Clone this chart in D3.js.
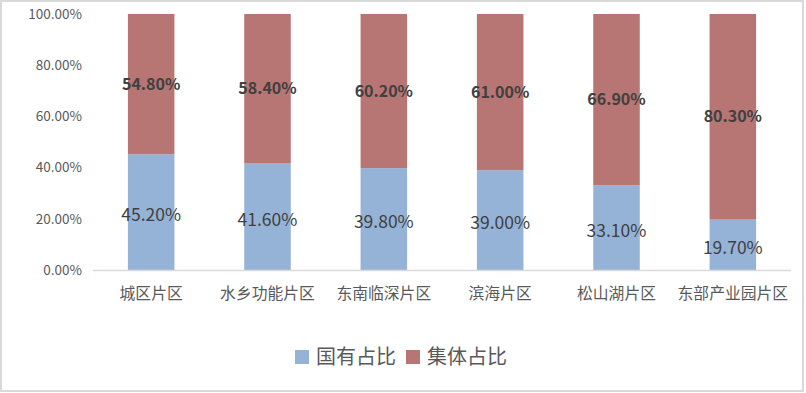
<!DOCTYPE html>
<html lang="zh">
<head>
    <meta charset="UTF-8">
    <title>国有/集体占比</title>
    <script src="https://d3js.org/d3.v7.min.js"></script>
    <style>
        body { margin: 0; background: #fff; }
        text { font-family: "Noto Sans CJK SC", "Noto Sans", sans-serif; }
        .tick-label { font-size: 13.5px; fill: #595959; }
        .cat-label { font-size: 15.8px; fill: #595959; }
        .lbl-state { font-size: 17.5px; fill: #404040; }
        .lbl-coll { font-size: 16px; font-weight: bold; fill: #404040; }
        .legend-text { font-size: 20px; fill: #595959; }
    </style>
</head>
<body>
    <div id="chart"></div>
    <script>
        var categories = ["城区片区", "水乡功能片区", "东南临深片区", "滨海片区", "松山湖片区", "东部产业园片区"];
        var stateShare = [45.2, 41.6, 39.8, 39.0, 33.1, 19.7];       // 国有占比
        var collectiveShare = [54.8, 58.4, 60.2, 61.0, 66.9, 80.3];  // 集体占比
        var seriesNames = ["国有占比", "集体占比"];
        var yTicks = [0, 20, 40, 60, 80, 100];

        var width = 806, height = 393;
        var colors = ["#95b3d7", "#b77573"];

        var svg = d3.select("#chart").append("svg")
            .attr("width", width)
            .attr("height", height);

        // outer border
        svg.append("rect")
            .attr("x", 1).attr("y", 1)
            .attr("width", width - 4).attr("height", height - 3)
            .attr("fill", "#fff")
            .attr("stroke", "#d9d9d9")
            .attr("stroke-width", 2);

        var x = d3.scaleBand()
            .domain(categories)
            .range([93, 791])
            .paddingInner(0.6)
            .paddingOuter(0.3);

        var y = d3.scaleLinear()
            .domain([0, 100])
            .range([270, 14]);

        var rows = categories.map((c, i) => ({ cat: c, a: stateShare[i], b: collectiveShare[i] }));

        // y tick labels
        svg.selectAll(".tick-label")
            .data(yTicks)
            .enter().append("text")
            .attr("class", "tick-label")
            .attr("x", 82)
            .attr("y", d => y(d))
            .attr("dy", "0.35em")
            .attr("text-anchor", "end")
            .text(d => d.toFixed(2) + "%");

        // bars: state (bottom)
        svg.selectAll(".bar-a")
            .data(rows)
            .enter().append("rect")
            .attr("x", d => x(d.cat))
            .attr("width", x.bandwidth())
            .attr("y", d => y(d.a))
            .attr("height", d => y(0) - y(d.a))
            .attr("fill", colors[0]);

        // bars: collective (top)
        svg.selectAll(".bar-b")
            .data(rows)
            .enter().append("rect")
            .attr("x", d => x(d.cat))
            .attr("width", x.bandwidth())
            .attr("y", d => y(d.a + d.b))
            .attr("height", d => y(d.a) - y(d.a + d.b))
            .attr("fill", colors[1]);

        // x axis line
        svg.append("line")
            .attr("x1", 93).attr("x2", 791)
            .attr("y1", y(0) + 0.5).attr("y2", y(0) + 0.5)
            .attr("stroke", "#d9d9d9")
            .attr("stroke-width", 1.5);

        // category labels
        svg.selectAll(".cat-label")
            .data(categories)
            .enter().append("text")
            .attr("class", "cat-label")
            .attr("x", d => x(d) + x.bandwidth() / 2)
            .attr("y", 293)
            .attr("dy", "0.35em")
            .attr("text-anchor", "middle")
            .text(d => d);

        // data labels
        svg.selectAll(".lbl-state")
            .data(rows)
            .enter().append("text")
            .attr("class", "lbl-state")
            .attr("x", d => x(d.cat) + x.bandwidth() / 2)
            .attr("y", d => y(d.a / 2) + 3)
            .attr("dy", "0.35em")
            .attr("text-anchor", "middle")
            .text(d => d.a.toFixed(2) + "%");

        svg.selectAll(".lbl-coll")
            .data(rows)
            .enter().append("text")
            .attr("class", "lbl-coll")
            .attr("x", d => x(d.cat) + x.bandwidth() / 2)
            .attr("y", d => y(d.a + d.b / 2))
            .attr("dy", "0.35em")
            .attr("text-anchor", "middle")
            .text(d => d.b.toFixed(2) + "%");

        // legend
        var legendX = [295, 406];
        var legend = svg.selectAll(".legend")
            .data(seriesNames)
            .enter().append("g")
            .attr("transform", (d, i) => `translate(${legendX[i]},357)`);

        legend.append("rect")
            .attr("x", 0).attr("y", -7)
            .attr("width", 14).attr("height", 14)
            .attr("fill", (d, i) => colors[i]);

        legend.append("text")
            .attr("class", "legend-text")
            .attr("x", 21)
            .attr("dy", "0.35em")
            .text(d => d);
    </script>
</body>
</html>
